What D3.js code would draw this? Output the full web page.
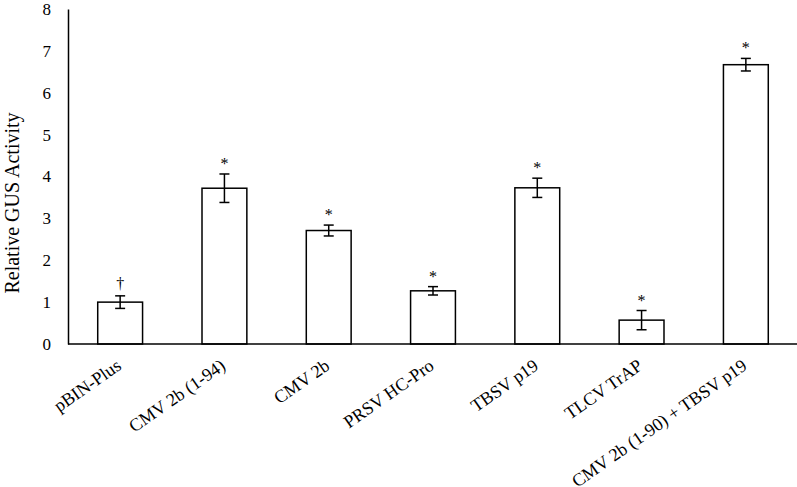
<!DOCTYPE html>
<html>
<head>
<meta charset="utf-8">
<script src="https://cdn.jsdelivr.net/npm/d3@7"></script>
<style>
  body { margin: 0; background: #fff; }
  text { font-family: "Liberation Serif", "Times New Roman", serif; fill: #000; }
</style>
</head>
<body>
<div id="chart"></div>
<script>
// data
const categories = ['pBIN-Plus', 'CMV 2b (1-94)', 'CMV 2b', 'PRSV HC-Pro', 'TBSV p19', 'TLCV TrAP', 'CMV 2b (1-90) + TBSV p19'];
const means = [1.0, 3.72, 2.71, 1.27, 3.73, 0.57, 6.67];
const errors = [0.15, 0.34, 0.13, 0.10, 0.23, 0.23, 0.15];
const marks = ['†', '*', '*', '*', '*', '*', '*'];
const yTicks = [0, 1, 2, 3, 4, 5, 6, 7, 8];

const width = 797;
const height = 487;
const plotLeft = 68, plotRight = 798, plotTop = 9, plotBottom = 344;

const svg = d3.select('#chart')
    .append('svg')
    .attr('width', width)
    .attr('height', height);

const x = d3.scaleBand()
    .domain(categories)
    .range([plotLeft, plotRight])
    .paddingInner(0.57)
    .paddingOuter(0.285);

const y = d3.scaleLinear()
    .domain([0, 8])
    .range([plotBottom, plotTop]);

// y axis (no tick marks, just labels)
const yAxis = svg.append('g')
    .attr('transform', `translate(${plotLeft},0)`)
    .call(d3.axisLeft(y).tickValues(yTicks).tickSize(0).tickPadding(17));
yAxis.select('.domain').attr('stroke', '#000').attr('stroke-width', 1.5);
yAxis.selectAll('text').style('font-size', '17px');

// bars
svg.selectAll('rect.bar')
    .data(categories)
    .enter()
    .append('rect')
    .attr('class', 'bar')
    .attr('x', d => x(d))
    .attr('y', (d, i) => y(means[i]))
    .attr('width', x.bandwidth())
    .attr('height', (d, i) => y(0) - y(means[i]))
    .attr('fill', '#fff')
    .attr('stroke', '#000')
    .attr('stroke-width', 1.5);

// error bars
const capW = 5;
const eb = svg.selectAll('g.err')
    .data(categories)
    .enter()
    .append('g')
    .attr('class', 'err')
    .attr('stroke', '#000')
    .attr('stroke-width', 1.5);

eb.append('line')
    .attr('x1', d => x(d) + x.bandwidth() / 2)
    .attr('x2', d => x(d) + x.bandwidth() / 2)
    .attr('y1', (d, i) => y(means[i] - errors[i]))
    .attr('y2', (d, i) => y(means[i] + errors[i]));
eb.append('line')
    .attr('x1', d => x(d) + x.bandwidth() / 2 - capW)
    .attr('x2', d => x(d) + x.bandwidth() / 2 + capW)
    .attr('y1', (d, i) => y(means[i] + errors[i]))
    .attr('y2', (d, i) => y(means[i] + errors[i]));
eb.append('line')
    .attr('x1', d => x(d) + x.bandwidth() / 2 - capW)
    .attr('x2', d => x(d) + x.bandwidth() / 2 + capW)
    .attr('y1', (d, i) => y(means[i] - errors[i]))
    .attr('y2', (d, i) => y(means[i] - errors[i]));

// significance marks
svg.selectAll('text.mark')
    .data(categories)
    .enter()
    .append('text')
    .attr('class', 'mark')
    .attr('x', d => x(d) + x.bandwidth() / 2)
    .attr('y', (d, i) => y(means[i] + errors[i]) - (marks[i] === '†' ? 7 : 5))
    .attr('text-anchor', 'middle')
    .style('font-size', '16px')
    .text((d, i) => marks[i]);

// x axis line
svg.append('line')
    .attr('x1', plotLeft)
    .attr('x2', width)
    .attr('y1', y(0))
    .attr('y2', y(0))
    .attr('stroke', '#000')
    .attr('stroke-width', 1.5);

// rotated category labels
svg.selectAll('text.cat')
    .data(categories)
    .enter()
    .append('text')
    .attr('class', 'cat')
    .attr('text-anchor', 'end')
    .attr('transform', d => `translate(${x(d) + x.bandwidth() / 2 - 5},${plotBottom + 14}) rotate(-35)`)
    .attr('dy', '0.7em')
    .style('font-size', '18px')
    .text(d => d);

// y axis title
svg.append('text')
    .attr('transform', `translate(19,203) rotate(-90)`)
    .attr('text-anchor', 'middle')
    .style('font-size', '20px')
    .text('Relative GUS Activity');
</script>
</body>
</html>
